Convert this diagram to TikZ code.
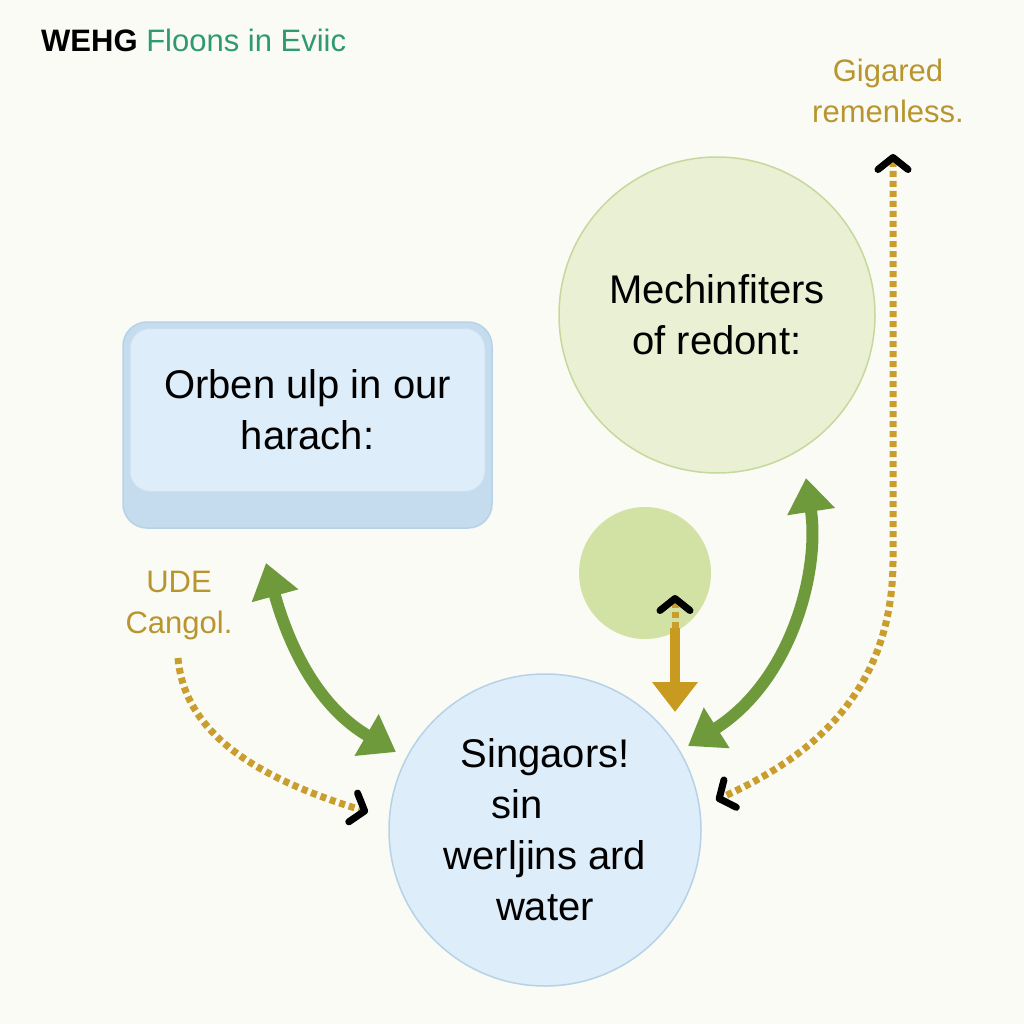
\documentclass[tikz,border=0pt]{standalone}
\usepackage{fontspec}
\setmainfont{Liberation Sans}
\usetikzlibrary{arrows.meta}
\definecolor{bg}{HTML}{FAFBF4}
\definecolor{bluefill}{HTML}{DDEDF9}
\definecolor{bluedark}{HTML}{C5DCEF}
\definecolor{blueedge}{HTML}{B6D2E8}
\definecolor{greenfill}{HTML}{E9F0D3}
\definecolor{greenedge}{HTML}{C6D89C}
\definecolor{smallgreen}{HTML}{D2E2A4}
\definecolor{arrowgreen}{HTML}{6F9A3B}
\definecolor{goldtext}{HTML}{B8952E}
\definecolor{golddash}{HTML}{C99E2E}
\definecolor{goldsolid}{HTML}{C99A20}
\definecolor{titlegreen}{HTML}{2E9A6E}
\tikzset{
  bigtext/.style={font=\fontsize{40}{51}\selectfont, align=center, text=black},
  labeltext/.style={font=\fontsize{31}{41}\selectfont, align=center, text=goldtext},
  greenarrow/.style={draw=arrowgreen, line width=12pt, {Triangle[length=34pt,width=46pt]}-{Triangle[length=34pt,width=46pt]}},
  dashline/.style={draw=golddash, line width=7pt, dash pattern=on 6pt off 4pt},
  chev/.tip={Straight Barb[black,length=12pt,width=30pt,line width=7pt,round]}
}
\begin{document}
\begin{tikzpicture}[x=1pt,y=-1pt]
\useasboundingbox (0,0) rectangle (1024,1024);
\fill[bg] (0,0) rectangle (1024,1024);

% title
\node[anchor=west, font=\fontsize{31}{36}\selectfont, inner sep=0pt] (title) at (41,40) {\textbf{WEHG} \textcolor{titlegreen}{Floons in Eviic}};

% rectangle box (3D)
\node[draw=blueedge, fill=bluedark, rounded corners=24pt, minimum width=369pt, minimum height=206pt, line width=1.5pt] (rectbase) at (307.5,425) {};
\node[draw=blueedge!70, fill=bluefill, rounded corners=20pt, minimum width=355pt, minimum height=163pt, line width=1pt, bigtext] (rect) at (307.5,410) {Orben ulp in our\\harach:};

% circles
\node[circle, draw=greenedge, fill=greenfill, line width=1.5pt, minimum size=316pt, bigtext] (mech) at (717,315) {Mechinfiters\\of redont:};
\node[circle, fill=smallgreen, minimum size=132pt] (small) at (645,573) {};
\node[circle, draw=blueedge, fill=bluefill, line width=1.5pt, minimum size=312pt, bigtext] (sing) at (545,830) {Singaors!\\sin\kern55pt\\werljins ard\\water};

% labels
\node[labeltext] (gig) at (888,91) {Gigared\\remenless.};
\node[labeltext] (ude) at (179,606) {UDE\\Cangol.};

% connector end points
\coordinate (g1a) at (266,563);
\coordinate (g1b) at (396,752);
\coordinate (g2a) at (806,478);
\coordinate (g2b) at (688,746);
\coordinate (d1a) at (178,658);
\coordinate (d1b) at (368,812);
\coordinate (d2a) at (893,154);
\coordinate (d2m) at (893,560);
\coordinate (d2b) at (716,800);
\coordinate (s1) at (675,595);
\coordinate (s2) at (675,628);
\coordinate (s3) at (675,712);

% green arrows
\draw[greenarrow] (g1a) .. controls (290,650) and (320,708) .. (g1b);
\draw[greenarrow] (g2a) .. controls (820,570) and (792,680) .. (g2b);

% dashed gold connectors
\draw[dashline, -chev] (d1a) .. controls (185,740) and (270,782) .. (d1b);
\draw[dashline, chev-chev] (d2a) -- (d2m) .. controls (893,700) and (800,762) .. (d2b);

% small gold arrow
\draw[dashline, chev-] (s1) -- (s2);
\draw[draw=goldsolid, line width=10pt, -{Triangle[length=30pt,width=44pt]}] (s2) -- (s3);
\end{tikzpicture}
\end{document}
